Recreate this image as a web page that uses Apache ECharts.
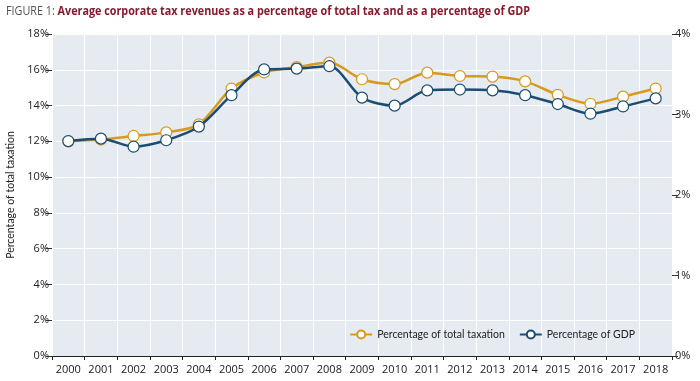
<!DOCTYPE html>
<html><head><meta charset="utf-8">
<script src="https://cdn.jsdelivr.net/npm/echarts@6/dist/echarts.min.js"></script>
<style>html,body{margin:0;padding:0;background:#fff}#c{width:700px;height:381px}</style>
</head><body><div id="c"></div>
<script>
const years = ['2000','2001','2002','2003','2004','2005','2006','2007','2008','2009','2010','2011','2012','2013','2014','2015','2016','2017','2018'];
const totalTaxation = [12.0,12.1,12.3,12.5,12.95,14.95,15.85,16.15,16.4,15.47,15.2,15.84,15.65,15.62,15.35,14.6,14.1,14.5,14.95];
const gdpShare = [2.67,2.70,2.60,2.68,2.85,3.24,3.56,3.57,3.60,3.21,3.11,3.30,3.31,3.30,3.24,3.13,3.01,3.10,3.20];
const leftTicks = [0,18,2];
const rightTicks = [0,4,1];
const seriesNames = ['Percentage of total taxation','Percentage of GDP'];
const titleLabel = 'FIGURE 1: ';
const titleText = 'Average corporate tax revenues as a percentage of total tax and as a percentage of GDP';

const orange = '#d8991f', blue = '#1b4c72';
const font = "'Open Sans', 'Liberation Sans', sans-serif";
const narrow = "'Lato', 'Liberation Sans', sans-serif";
const chart = echarts.init(document.getElementById('c'));
chart.setOption({
  animation:false,
  graphic:[{
    type:'text', x:6, y:5, scaleX:0.83,
    style:{
      text:'{a|' + titleLabel + '}{b|' + titleText + '}',
      rich:{
        a:{fontFamily:font,fontSize:13,fill:'#555',fontWeight:'normal'},
        b:{fontFamily:font,fontSize:13,fill:'#8a1a2c',fontWeight:'bold'}
      }
    }
  }],
  legend:{
    right:60, bottom:36, itemGap:14, itemWidth:22, itemHeight:10,
    textStyle:{fontFamily:narrow,fontSize:10.5,color:'#222'},
    data:seriesNames
  },
  grid:{left:52,right:28,top:34,bottom:25,show:true,backgroundColor:'#e6ebf1',borderWidth:0,outerBoundsMode:'none',containLabel:false},
  xAxis:{
    type:'category', data:years, boundaryGap:true,
    axisLine:{show:true,lineStyle:{color:'#222',width:1.2}},
    axisTick:{show:true,length:4,lineStyle:{color:'#222'}},
    axisLabel:{fontFamily:font,fontSize:11,color:'#222',margin:8,interval:0},
    splitLine:{show:true,interval:0,lineStyle:{color:'#ffffff',width:1}}
  },
  yAxis:[{
    type:'value', min:leftTicks[0], max:leftTicks[1], interval:leftTicks[2],
    name:'Percentage of total taxation', nameLocation:'middle', nameGap:33,
    nameTextStyle:{fontFamily:narrow,fontSize:10.5,color:'#222'},
    axisLine:{show:false},
    axisTick:{show:true,length:6,lineStyle:{color:'#333'}},
    axisLabel:{fontFamily:font,fontSize:11,color:'#222',margin:3,formatter:'{value}%'},
    splitLine:{show:true,lineStyle:{color:'#ffffff',width:1}}
  },{
    type:'value', min:rightTicks[0], max:rightTicks[1], interval:rightTicks[2], position:'right',
    axisLine:{show:false},
    axisTick:{show:true,length:6,lineStyle:{color:'#333'}},
    axisLabel:{fontFamily:font,fontSize:11,color:'#222',margin:3,formatter:'{value}%'},
    splitLine:{show:false}
  }],
  series:[{
    name:seriesNames[0], type:'line', yAxisIndex:0, data:totalTaxation, smooth:0.3,
    symbol:'circle', symbolSize:11,
    lineStyle:{color:orange,width:2.5},
    itemStyle:{color:'#fff',borderColor:orange,borderWidth:1.2},
    z:2
  },{
    name:seriesNames[1], type:'line', yAxisIndex:1, data:gdpShare, smooth:0.3,
    symbol:'circle', symbolSize:11,
    lineStyle:{color:blue,width:2.5},
    itemStyle:{color:'#fff',borderColor:blue,borderWidth:1.2},
    z:3
  }]
});
</script></body></html>
